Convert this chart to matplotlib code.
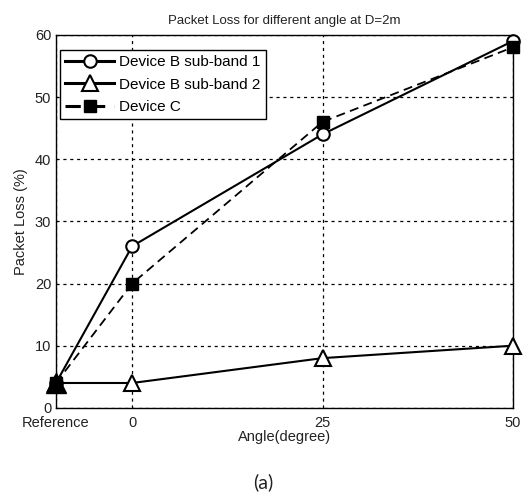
import matplotlib.pyplot as plt

plt.rcParams['font.family'] = ['Liberation Sans', 'DejaVu Sans']

# dados (Reference = -10 no eixo)
angulos = [-10, 0, 25, 50]
rotulos_x = ['Reference', '0', '25', '50']
sub_banda1 = [4, 26, 44, 59]
sub_banda2 = [4, 4, 8, 10]
device_c = [4, 20, 46, 58]

fig = plt.figure(figsize=(5.26, 4.98), dpi=100)
ax = fig.add_axes([0.1065, 0.181, 0.8685, 0.749])

ax.plot(angulos, sub_banda1, '-', color='black', lw=1.5, marker='o',
        ms=9, mfc='white', mew=1.5, label='Device B sub-band 1', clip_on=False, zorder=3)
ax.plot(angulos, device_c, '--', color='black', lw=1.3, marker='s',
        ms=8, mfc='black', dashes=(5, 3), label='Device C', clip_on=False, zorder=3)
ax.plot(angulos, sub_banda2, '-', color='black', lw=1.5, marker='^',
        ms=11, mfc='white', mew=1.5, label='Device B sub-band 2', clip_on=False, zorder=3)
# ponto de referência aparece preenchido
ax.plot(angulos[0], sub_banda2[0], '^', color='black', ms=15, clip_on=False, zorder=4)

ax.set_xlim(-10, 50)
ax.set_ylim(0, 60)
ax.set_xticks(angulos)
ax.set_xticklabels(rotulos_x)
ax.set_yticks(range(0, 61, 10))
ax.tick_params(direction='in', length=0, labelsize=10.5, colors='#222222')
ax.tick_params(axis='x', pad=6)
ax.grid(True, color='black', linestyle=(0, (2.5, 3)), lw=0.9)
for s in ax.spines.values():
    s.set_linewidth(1.0)

ax.set_title('Packet Loss for different angle at D=2m', fontsize=9.5, color='#222222', pad=8)
ax.set_xlabel('Angle(degree)', fontsize=10.5, color='#222222', labelpad=0)
ax.set_ylabel('Packet Loss (%)', fontsize=10.5, color='#222222', labelpad=5)

h, l = ax.get_legend_handles_labels()
order = [0, 2, 1]
leg = ax.legend([h[i] for i in order], [l[i] for i in order], loc='upper left',
                bbox_to_anchor=(4 / 457, 1 - 15 / 373), borderaxespad=0,
                fontsize=11, handlelength=3.2, fancybox=False, framealpha=1,
                edgecolor='black', labelspacing=0.55,
                handletextpad=0.3, borderpad=0.35)
leg.get_frame().set_linewidth(1.0)
for ln in leg.get_lines():
    ln.set_linewidth(2.2)

fig.text(0.5, 0.032, '(a)', ha='center', va='center', fontsize=14, color='#222222',
         family=['Lato', 'DejaVu Sans'])

fig.savefig('out.png', dpi=100)
